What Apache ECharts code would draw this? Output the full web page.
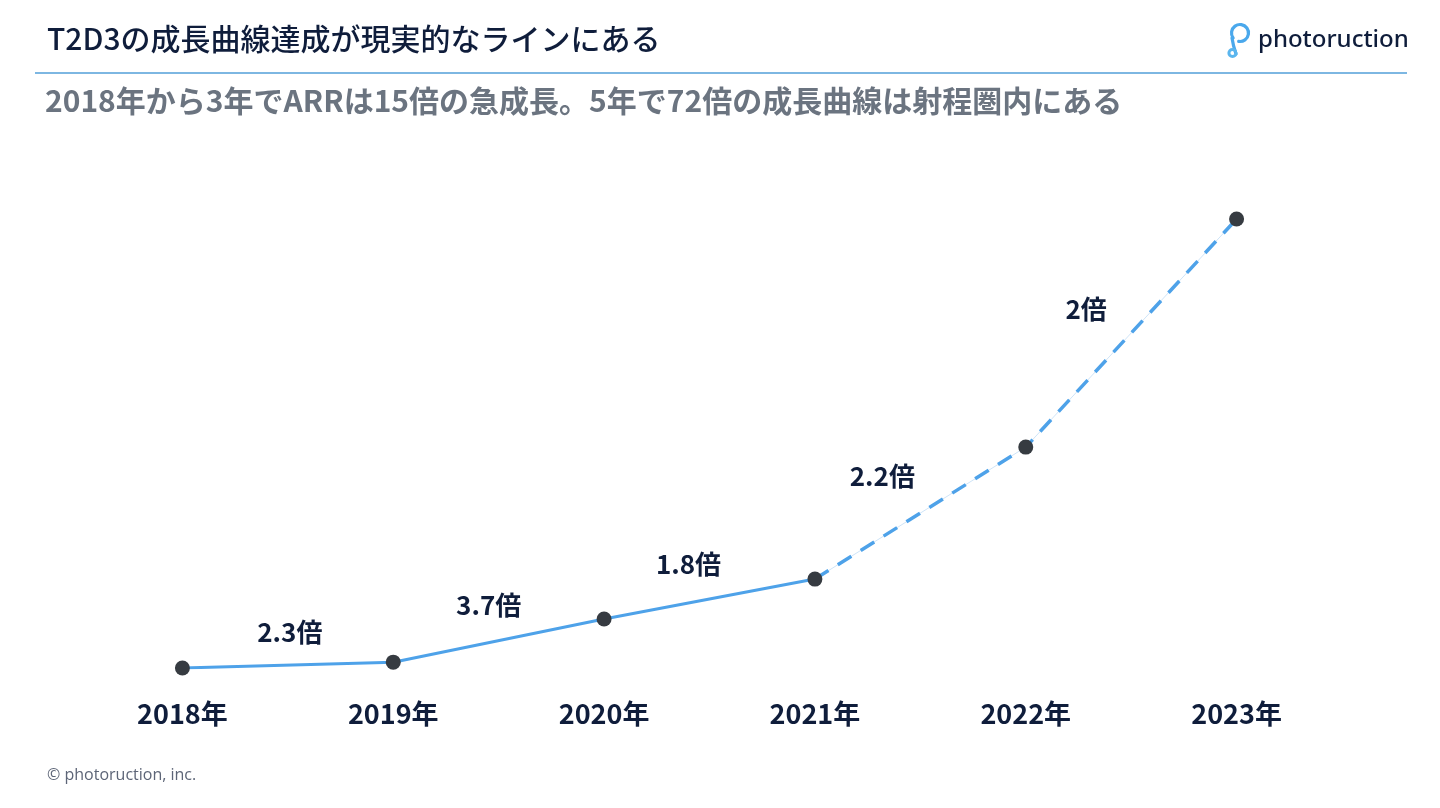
<!DOCTYPE html>
<html>
<head>
<meta charset="utf-8">
<script src="https://cdn.jsdelivr.net/npm/echarts@6/dist/echarts.min.js"></script>
<style>
  html, body { margin: 0; padding: 0; background: #fff; }
  #chart { width: 1440px; height: 808px; }
</style>
</head>
<body>
<div id="chart"></div>
<script>
// 年ごとのカテゴリ
const years = ['2018年', '2019年', '2020年', '2021年', '2022年', '2023年']
// 成長曲線（相対値, 2023年=100）
const growth = [0, 1.3, 10.9, 19.8, 49.2, 100]
// 実績は2021年まで、以降は見込み
const actualUntil = 3
// 前年比の倍率ラベル
const multipliers = ['2.3倍', '3.7倍', '1.8倍', '2.2倍', '2倍']
// ラベルの位置ずらし（px）
const labelOffsets = [[2, -33], [-10, -35], [-21, -35], [-38, -37], [-45, -24]]

const FONT = '"Noto Sans CJK JP", "Noto Sans", sans-serif'
const NAVY = '#0f1d3b'
const LINE_BLUE = '#4ea2e9'
const ICON_BLUE = '#4aa8ec'

const solidData = growth.map((v, i) => (i <= actualUntil ? v : '-'))
const dashData = growth.map((v, i) => (i >= actualUntil ? v : '-'))
const labelData = multipliers.map((t, i) => ({
  value: [i + 0.5, (growth[i] + growth[i + 1]) / 2],
  label: { formatter: t, offset: labelOffsets[i] }
}))

const chart = echarts.init(document.getElementById('chart'))

chart.setOption({
  backgroundColor: '#fff',
  animation: false,
  grid: { left: 77, right: 98, top: 219, bottom: 140 },
  xAxis: [
    {
      type: 'category',
      data: years,
      boundaryGap: true,
      axisLine: { show: false },
      axisTick: { show: false },
      axisLabel: {
        margin: 32,
        fontSize: 27,
        fontWeight: 'bold',
        color: NAVY,
        fontFamily: FONT
      }
    },
    { type: 'value', min: -0.5, max: 5.5, show: false }
  ],
  yAxis: { type: 'value', min: 0, max: 100, show: false },
  series: [
    {
      type: 'line',
      data: solidData,
      symbol: 'none',
      lineStyle: { color: LINE_BLUE, width: 3 },
      z: 2
    },
    {
      // 見込み部分の薄い実線
      type: 'line',
      data: dashData,
      symbol: 'none',
      lineStyle: { color: '#cfe4f7', width: 1 },
      z: 1
    },
    {
      type: 'line',
      data: dashData,
      symbol: 'none',
      lineStyle: { color: LINE_BLUE, width: 3.5, type: [16, 11] },
      z: 2
    },
    {
      type: 'line',
      data: growth,
      symbol: 'circle',
      symbolSize: 15,
      itemStyle: { color: '#363b41' },
      lineStyle: { width: 0, opacity: 0 },
      z: 5
    },
    {
      type: 'scatter',
      xAxisIndex: 1,
      data: labelData,
      symbolSize: 1,
      itemStyle: { color: 'rgba(255,255,255,0)', opacity: 1 },
      silent: true,
      z: 6,
      label: {
        show: true,
        position: 'inside',
        fontSize: 26,
        fontWeight: 'bold',
        color: NAVY,
        textBorderWidth: 0,
        fontFamily: FONT
      }
    }
  ],
  graphic: [
    {
      type: 'text',
      left: 47,
      top: 24,
      style: {
        text: 'T2D3の成長曲線達成が現実的なラインにある',
        fontSize: 30,
        fontWeight: 500,
        fill: NAVY,
        fontFamily: FONT
      }
    },
    {
      type: 'rect',
      shape: { x: 35, y: 72, width: 1372, height: 2 },
      style: { fill: '#7db7e2' }
    },
    {
      type: 'text',
      left: 45,
      top: 86,
      style: {
        text: '2018年から3年でARRは15倍の急成長。5年で72倍の成長曲線は射程圏内にある',
        fontSize: 30,
        fontWeight: 'bold',
        fill: '#6b7480',
        fontFamily: FONT
      }
    },
    // ロゴのアイコン
    {
      type: 'arc',
      shape: { cx: 1240, cy: 33, r: 8.5, startAngle: Math.PI * 0.8, endAngle: Math.PI * 0.55, clockwise: true },
      style: { fill: 'none', stroke: ICON_BLUE, lineWidth: 3.2, lineCap: 'round' }
    },
    {
      type: 'bezierCurve',
      shape: { x1: 1232, y1: 38, x2: 1236, y2: 54, cpx1: 1233, cpy1: 45 },
      style: { fill: 'none', stroke: ICON_BLUE, lineWidth: 3.2, lineCap: 'round' }
    },
    {
      type: 'arc',
      shape: { cx: 1232.5, cy: 53, r: 3.6, startAngle: 0, endAngle: Math.PI * 1.8, clockwise: true },
      style: { fill: 'none', stroke: '#5bb6ee', lineWidth: 3, lineCap: 'round' }
    },
    {
      type: 'text',
      left: 1258,
      top: 28,
      style: {
        text: 'photoruction',
        fontSize: 24,
        fontWeight: 500,
        fill: NAVY,
        fontFamily: '"Noto Sans", "Open Sans", sans-serif'
      }
    },
    {
      type: 'text',
      left: 47,
      top: 767,
      style: {
        text: '© photoruction, inc.',
        fontSize: 16,
        fill: '#5d6577',
        fontFamily: '"Open Sans", "Noto Sans", sans-serif'
      }
    }
  ]
})
</script>
</body>
</html>
